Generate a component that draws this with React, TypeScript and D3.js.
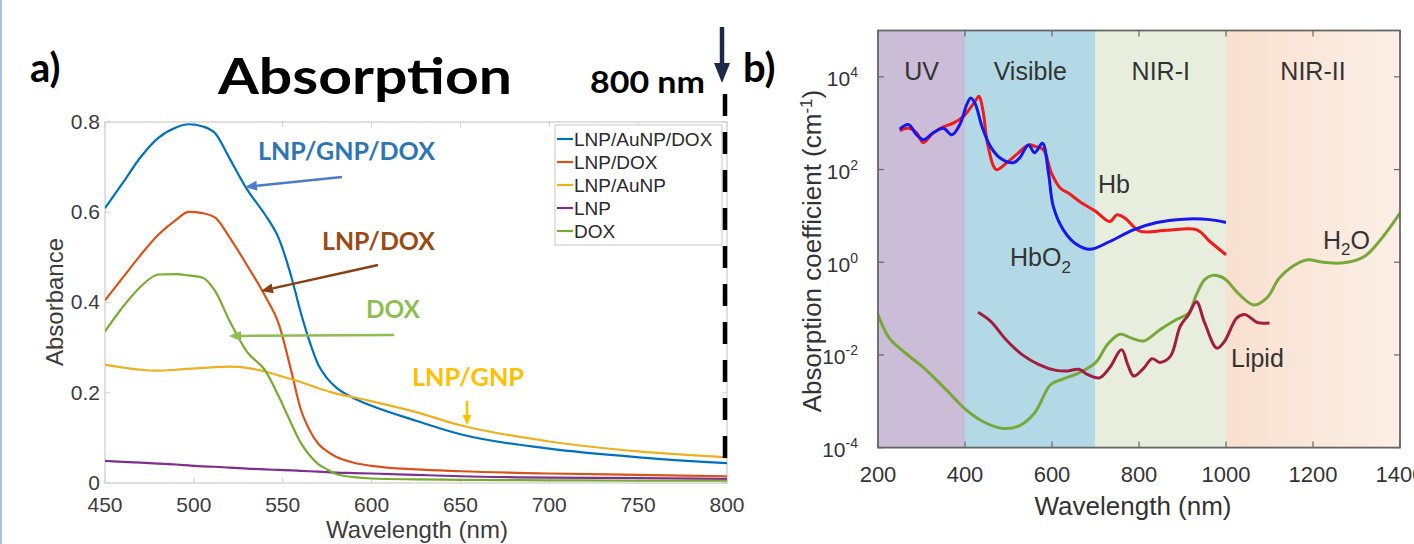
import React from 'react';
import * as d3 from 'd3';

// ---------- Panel a data ----------
const wavelengthA = [450, 460, 470, 480, 490, 497, 505, 512, 520, 530, 540, 548, 555, 560, 565, 570, 575, 580, 590, 600, 625, 650, 700, 750, 800];
const lnpAuNpDox = [0.609, 0.665, 0.722, 0.765, 0.788, 0.795, 0.79, 0.775, 0.72, 0.65, 0.595, 0.54, 0.455, 0.38, 0.315, 0.262, 0.232, 0.212, 0.188, 0.171, 0.138, 0.108, 0.076, 0.057, 0.044];
const lnpDox = [0.405, 0.455, 0.505, 0.55, 0.583, 0.601, 0.598, 0.588, 0.545, 0.482, 0.415, 0.35, 0.245, 0.165, 0.118, 0.087, 0.07, 0.058, 0.045, 0.038, 0.03, 0.026, 0.021, 0.018, 0.015];
const lnpAuNp = [0.262, 0.256, 0.251, 0.249, 0.251, 0.253, 0.255, 0.257, 0.258, 0.255, 0.247, 0.238, 0.23, 0.224, 0.217, 0.21, 0.204, 0.198, 0.19, 0.181, 0.157, 0.128, 0.092, 0.07, 0.057];
const lnp = [0.049, 0.047, 0.045, 0.043, 0.041, 0.039, 0.037, 0.036, 0.034, 0.032, 0.03, 0.029, 0.028, 0.027, 0.026, 0.025, 0.024, 0.023, 0.022, 0.021, 0.018, 0.015, 0.012, 0.011, 0.009];
const dox = [0.336, 0.39, 0.435, 0.462, 0.463, 0.46, 0.455, 0.425, 0.36, 0.29, 0.25, 0.19, 0.13, 0.09, 0.062, 0.042, 0.03, 0.02, 0.013, 0.01, 0.008, 0.007, 0.006, 0.005, 0.005];
const seriesNamesA = ['LNP/AuNP/DOX', 'LNP/DOX', 'LNP/AuNP', 'LNP', 'DOX'];
const seriesColorsA = ['#0072BD', '#D95319', '#EDB120', '#7E2F8E', '#77AC30'];
const xTicksA = [450, 500, 550, 600, 650, 700, 750, 800];
const yTicksA = [0, 0.2, 0.4, 0.6, 0.8];
const yTickLabelsA = ['0', '0.2', '0.4', '0.6', '0.8'];

// ---------- Panel b data ----------
const bandStart = [200, 400, 700, 1000];
const bandEnd = [400, 700, 1000, 1400];
const bandLabels = ['UV', 'Visible', 'NIR-I', 'NIR-II'];
const bandLabelAt = [300, 550, 850, 1200];
const bandColors = ['#cbbcd8', '#b2d9e5', '#e7eedd', 'url(#nir2grad)'];

const hbo2Wl = [250, 270, 289, 304, 327, 350, 370, 388, 404, 413, 423, 439, 458, 480, 511, 526, 546, 560, 578, 592, 603, 626, 657, 687, 733, 787, 841, 902, 963, 1000];
const hbo2 = [740, 930, 560, 440, 620, 780, 560, 930, 2500, 3500, 2700, 850, 320, 180, 140, 180, 340, 230, 370, 83, 16, 5.0, 2.4, 1.9, 2.8, 5.0, 7.2, 8.5, 8.3, 7.2];

const hbWl = [250, 270, 289, 304, 327, 350, 373, 396, 423, 432, 441, 453, 472, 495, 518, 546, 561, 580, 599, 619, 640, 665, 700, 733, 749, 768, 802, 864, 933, 963, 1000];
const hb = [692, 776, 617, 380, 617, 832, 1000, 1380, 2950, 3800, 1950, 316, 100, 138, 209, 339, 316, 269, 83, 40, 30, 20, 12.6, 7.6, 10.5, 8.9, 4.7, 4.9, 5.0, 2.8, 1.45];

const waterWl = [200, 226, 263, 309, 356, 402, 440, 486, 523, 560, 597, 625, 662, 700, 728, 756, 783, 811, 848, 886, 914, 932, 951, 969, 990, 1002, 1031, 1064, 1094, 1122, 1151, 1185, 1223, 1271, 1319, 1357, 1400];
const water = [0.074, 0.023, 0.011, 0.0049, 0.0018, 0.00066, 0.00037, 0.00026, 0.00029, 0.00056, 0.0023, 0.003, 0.0041, 0.0068, 0.017, 0.028, 0.023, 0.02, 0.035, 0.058, 0.08, 0.2, 0.42, 0.52, 0.48, 0.4, 0.2, 0.12, 0.17, 0.45, 0.79, 1.12, 1.0, 0.97, 1.35, 3.2, 11.5];

const lipidWl = [430, 458, 495, 532, 570, 607, 635, 662, 681, 709, 732, 760, 774, 788, 811, 830, 848, 872, 895, 914, 932, 951, 979, 997, 1025, 1044, 1072, 1100];
const lipid = [0.083, 0.054, 0.021, 0.01, 0.0062, 0.0047, 0.0045, 0.0049, 0.0038, 0.0032, 0.0052, 0.013, 0.0062, 0.0035, 0.0052, 0.0083, 0.0069, 0.0093, 0.042, 0.074, 0.14, 0.049, 0.014, 0.02, 0.063, 0.074, 0.05, 0.049];

const xTicksB = [200, 400, 600, 800, 1000, 1200, 1400];
const yExpB = [-4, -2, 0, 2, 4];

const AX = 'Liberation Sans, Arial, sans-serif';
const CAL = 'Lato, Open Sans, sans-serif';

function arrowPath(x1: number, y1: number, x2: number, y2: number, len: number, w: number) {
  const a = Math.atan2(y2 - y1, x2 - x1);
  const bx = x2 - len * Math.cos(a), by = y2 - len * Math.sin(a);
  const px = -Math.sin(a) * w / 2, py = Math.cos(a) * w / 2;
  return { shaft: `M${x1},${y1}L${bx},${by}`, head: `M${x2},${y2}L${bx + px},${by + py}L${bx - px},${by - py}Z` };
}

function Arrow({ x1, y1, x2, y2, color, width = 2.5, len = 12, w = 10 }: any) {
  const p = arrowPath(x1, y1, x2, y2, len, w);
  return (
    <g>
      <path d={p.shaft} stroke={color} strokeWidth={width} fill="none" />
      <path d={p.head} fill={color} />
    </g>
  );
}

export default function App() {
  // panel a scales
  const xA = d3.scaleLinear().domain([450, 800]).range([105, 727]);
  const yA = d3.scaleLinear().domain([0, 0.8]).range([483, 122]);
  const lineA = d3.line<number>().x((_, i) => xA(wavelengthA[i])).y((d) => yA(d)).curve(d3.curveMonotoneX);
  const seriesA = [lnpAuNpDox, lnpDox, lnpAuNp, lnp, dox];

  // panel b scales
  const xB = d3.scaleLinear().domain([200, 1400]).range([878, 1400]);
  const yB = d3.scaleLog().domain([1e-4, 1e5]).range([447.6, 30.5]);
  const lineB = (wl: number[], v: number[]) =>
    d3.line<number>().x((_, i) => xB(wl[i])).y((d) => yB(d)).curve(d3.curveCatmullRom.alpha(0.5))(v) || '';

  const [aL, aR] = xA.range();
  const [aB, aT] = yA.range();
  const [bL, bR] = xB.range();
  const [bB, bT] = yB.range();

  return (
    <svg width={1414} height={544} style={{ position: 'absolute', left: 0, top: 0, background: '#fff' }}>
      <defs>
        <clipPath id="clipA"><rect x={aL} y={aT} width={aR - aL} height={aB - aT} /></clipPath>
        <clipPath id="clipB"><rect x={bL} y={bT} width={bR - bL} height={bB - bT} /></clipPath>
        <linearGradient id="nir2grad" x1="0" x2="1" y1="0" y2="0">
          <stop offset="0" stopColor="#f8e0cf" />
          <stop offset="1" stopColor="#fcefe6" />
        </linearGradient>
      </defs>
      <rect x={0} y={0} width={1414} height={544} fill="#fff" />
      <rect x={0} y={0} width={2} height={544} fill="#a9c3e2" />

      {/* ================= Panel a ================= */}
      <text x={30} y={82} fontFamily={CAL} fontWeight="bold" fontSize={40} fill="#000">a)</text>
      <text x={218} y={94} fontFamily={CAL} fontWeight="bold" fontSize={50} fill="#000" textLength={294} lengthAdjust="spacingAndGlyphs">Absorption</text>
      <text x={590} y={93} fontFamily={CAL} fontWeight="bold" fontSize={30} fill="#000" textLength={115} lengthAdjust="spacingAndGlyphs">800 nm</text>

      {/* axes box */}
      <rect x={aL} y={aT} width={aR - aL} height={aB - aT} fill="none" stroke="#d6d6d6" strokeWidth={1.5} />
      {xTicksA.map((t) => (
        <g key={'xa' + t}>
          <line x1={xA(t)} x2={xA(t)} y1={aB} y2={aB - 5} stroke="#cfcfcf" />
          <line x1={xA(t)} x2={xA(t)} y1={aT} y2={aT + 5} stroke="#cfcfcf" />
          <text x={xA(t)} y={512} textAnchor="middle" fontFamily={AX} fontSize={21} fill="#3c3c3c">{t}</text>
        </g>
      ))}
      {yTicksA.map((t, i) => (
        <g key={'ya' + t}>
          <line x1={aL} x2={aL + 5} y1={yA(t)} y2={yA(t)} stroke="#cfcfcf" />
          <line x1={aR} x2={aR - 5} y1={yA(t)} y2={yA(t)} stroke="#cfcfcf" />
          <text x={100} y={yA(t)} dy="0.33em" textAnchor="end" fontFamily={AX} fontSize={21} fill="#3c3c3c">{yTickLabelsA[i]}</text>
        </g>
      ))}
      <text transform="translate(55,302) rotate(-90)" dy="0.35em" textAnchor="middle" fontFamily={AX} fontSize={24} fill="#3c3c3c">Absorbance</text>
      <text x={417} y={538} textAnchor="middle" fontFamily={AX} fontSize={24} fill="#3c3c3c">Wavelength (nm)</text>

      <g clipPath="url(#clipA)">
        {seriesA.map((s, i) => (
          <path key={'sa' + i} d={lineA(s) || ''} fill="none" stroke={seriesColorsA[i]} strokeWidth={2.2} />
        ))}
      </g>

      {/* legend */}
      <rect x={555} y={125} width={167} height={120} fill="#fff" stroke="#d0d0d0" strokeWidth={1.2} />
      {seriesNamesA.map((n, i) => (
        <g key={'lg' + i}>
          <line x1={557} x2={573} y1={139 + i * 23} y2={139 + i * 23} stroke={seriesColorsA[i]} strokeWidth={2.2} />
          <text x={574} y={139 + i * 23} dy="0.36em" fontFamily={AX} fontSize={19} fill="#2a2a2a">{n}</text>
        </g>
      ))}

      {/* 800 nm marker */}
      <line x1={725} x2={725} y1={94} y2={466} stroke="#000" strokeWidth={4.5} strokeDasharray="22 16" />
      <Arrow x1={722} y1={27} x2={722} y2={83} color="#1c2a48" width={4.5} len={20} w={16} />

      {/* annotations */}
      <text x={258} y={160} fontFamily={CAL} fontWeight="bold" fontSize={25} fill="#2E75B6" textLength={177} lengthAdjust="spacingAndGlyphs">LNP/GNP/DOX</text>
      <Arrow x1={342} y1={177} x2={245} y2={187} color="#4a7cc9" width={2.5} />
      <text x={322} y={250} fontFamily={CAL} fontWeight="bold" fontSize={25} fill="#9C4A14" textLength={113} lengthAdjust="spacingAndGlyphs">LNP/DOX</text>
      <Arrow x1={378} y1={265} x2={261} y2={291} color="#8B3F10" width={2.5} />
      <text x={366} y={318} fontFamily={CAL} fontWeight="bold" fontSize={25} fill="#8DBE4F" textLength={54} lengthAdjust="spacingAndGlyphs">DOX</text>
      <Arrow x1={394} y1={335} x2={229} y2={336} color="#8DBE4F" width={2.5} />
      <text x={412} y={386} fontFamily={CAL} fontWeight="bold" fontSize={25} fill="#FFC000" textLength={112} lengthAdjust="spacingAndGlyphs">LNP/GNP</text>
      <Arrow x1={467} y1={401} x2={467} y2={425} color="#FFC000" width={2.5} len={10} w={9} />

      {/* ================= Panel b ================= */}
      <text x={743} y={82} fontFamily={CAL} fontWeight="bold" fontSize={40} fill="#000">b)</text>

      {bandStart.map((s, i) => (
        <rect key={'bd' + i} x={xB(s)} y={bT} width={xB(bandEnd[i]) - xB(s)} height={bB - bT} fill={bandColors[i]} />
      ))}
      {bandLabels.map((l, i) => (
        <text key={'bl' + i} x={xB(bandLabelAt[i])} y={80} textAnchor="middle" fontFamily={AX} fontSize={25} fill="#333">{l}</text>
      ))}

      <g clipPath="url(#clipB)">
        <path d={lineB(waterWl, water)} fill="none" stroke="#78a83a" strokeWidth={3} />
        <path d={lineB(lipidWl, lipid)} fill="none" stroke="#a31d3e" strokeWidth={3} />
        <path d={lineB(hbWl, hb)} fill="none" stroke="#f01c1c" strokeWidth={3} />
        <path d={lineB(hbo2Wl, hbo2)} fill="none" stroke="#1616f0" strokeWidth={3} />
      </g>

      <rect x={bL} y={bT} width={bR - bL} height={bB - bT} fill="none" stroke="#666" strokeWidth={1.8} />
      {xTicksB.map((t) => (
        <g key={'xb' + t}>
          <line x1={xB(t)} x2={xB(t)} y1={bB} y2={bB - 6} stroke="#666" strokeWidth={1.2} />
          <line x1={xB(t)} x2={xB(t)} y1={bT} y2={bT + 6} stroke="#666" strokeWidth={1.2} />
          <text x={xB(t)} y={482} textAnchor="middle" fontFamily={AX} fontSize={22} fill="#333">{t}</text>
        </g>
      ))}
      {yExpB.map((e) => (
        <g key={'yb' + e}>
          <line x1={bL} x2={bL + 6} y1={yB(Math.pow(10, e))} y2={yB(Math.pow(10, e))} stroke="#666" strokeWidth={1.2} />
          <line x1={bR} x2={bR - 6} y1={yB(Math.pow(10, e))} y2={yB(Math.pow(10, e))} stroke="#666" strokeWidth={1.2} />
          <text x={858} y={yB(Math.pow(10, e))} dy="0.45em" textAnchor="end" fontFamily={AX} fontSize={21} fill="#333">
            10<tspan dy="-9" fontSize={14}>{e}</tspan>
          </text>
        </g>
      ))}
      <text transform="translate(812,251) rotate(-90)" dy="0.35em" textAnchor="middle" fontFamily={AX} fontSize={26} fill="#333">
        Absorption coefficient (cm<tspan dy="-9" fontSize={17}>-1</tspan><tspan dy="9">)</tspan>
      </text>
      <text x={1133} y={515} textAnchor="middle" fontFamily={AX} fontSize={26} fill="#333">Wavelength (nm)</text>

      <text x={1098} y={193} fontFamily={AX} fontSize={25} fill="#333">Hb</text>
      <text x={1010} y={266} fontFamily={AX} fontSize={25} fill="#333">HbO<tspan dy="7" fontSize={17}>2</tspan></text>
      <text x={1323} y={249} fontFamily={AX} fontSize={25} fill="#333">H<tspan dy="6" fontSize={17}>2</tspan><tspan dy="-6">O</tspan></text>
      <text x={1231} y={367} fontFamily={AX} fontSize={25} fill="#333">Lipid</text>
    </svg>
  );
}
